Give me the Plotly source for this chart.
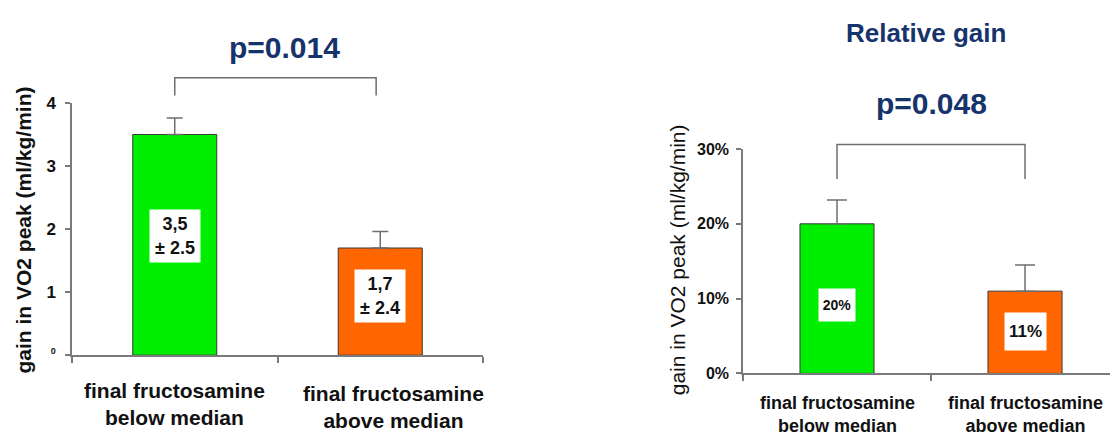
import plotly.graph_objects as go

W, H = 1110, 439

# ---------------- data ----------------
categories = ["final fructosamine<br>below median", "final fructosamine<br>above median"]
abs_gain = [3.5, 1.7]
abs_err = [0.26, 0.26]
abs_labels = ["3,5<br>± 2.5", "1,7<br>± 2.4"]
rel_gain = [0.20, 0.11]
rel_err = [0.032, 0.035]
rel_labels = ["20%", "11%"]
bar_colors = ["#00EE00", "#FF6600"]
abs_tickvals = [0, 1, 2, 3, 4]
abs_ticktext = ['<sup><span style="font-size:9px">0</span></sup>', "1", "2", "3", "4"]
rel_tickvals = [0, 0.1, 0.2, 0.3]
rel_ticktext = ["0%", "10%", "20%", "30%"]
p_left = "p=0.014"
p_right = "p=0.048"
right_heading = "Relative gain"
y_title = "gain in VO2 peak (ml/kg/min)"

FONT = "Liberation Sans, Arial, sans-serif"
NAVY = "#16336C"
AXIS = "#7a7a7a"


def py(p):
    return 1 - p / H


def px(p):
    return p / W


# subplot geometry (paper fractions, from pixel positions)
L_XD = [px(72), px(483)]
L_YD = [py(361), py(98)]
L_XR = [-0.5, 1.5]
L_YR = [0, 4]
R_XD = [px(743), 1.0]
R_YD = [py(380), py(146)]
R_XR = [-0.5, 1.452]
R_YR = [0, 0.30]


def to_paper(v, dom, rng):
    return dom[0] + (v - rng[0]) / (rng[1] - rng[0]) * (dom[1] - dom[0])


fig = go.Figure()

fig.add_trace(go.Bar(
    x=[0, 1], y=abs_gain, width=0.409, xaxis="x", yaxis="y",
    marker=dict(color=bar_colors, line=dict(color="#3a3a3a", width=1)),
    error_y=dict(type="data", array=abs_err, arrayminus=[0, 0], symmetric=False,
                 color="#6e6e6e", thickness=1.5, width=8),
    hoverinfo="skip", showlegend=False,
))
fig.add_trace(go.Bar(
    x=[0, 1], y=rel_gain, width=0.394, xaxis="x2", yaxis="y2",
    marker=dict(color=bar_colors, line=dict(color="#3a3a3a", width=1)),
    error_y=dict(type="data", array=rel_err, arrayminus=[0, 0], symmetric=False,
                 color="#6e6e6e", thickness=1.5, width=10),
    hoverinfo="skip", showlegend=False,
))

xcommon = dict(showgrid=False, zeroline=False, showline=True, linecolor=AXIS, linewidth=1.5,
               ticks="outside", tickcolor=AXIS, tickwidth=1.5, ticklen=6,
               showticklabels=False, fixedrange=True)
ycommon = dict(showgrid=False, zeroline=False, showline=True, linecolor=AXIS, linewidth=1.5,
               ticks="outside", tickcolor=AXIS, tickwidth=1.5, ticklen=5,
               fixedrange=True)

fig.update_layout(
    width=W, height=H,
    margin=dict(l=0, r=0, t=0, b=0),
    paper_bgcolor="white", plot_bgcolor="white",
    font=dict(family=FONT, color="#111111"),
    xaxis=dict(domain=L_XD, range=L_XR, tickvals=[-0.5, 0.5, 1.5], anchor="y", **xcommon),
    yaxis=dict(domain=L_YD, range=L_YR, tickvals=abs_tickvals, ticktext=abs_ticktext,
               tickfont=dict(size=17, weight="bold", family=FONT, color="#111"),
               ticklabelstandoff=6, anchor="x", **ycommon),
    xaxis2=dict(domain=R_XD, range=R_XR, tickvals=[-0.5, 0.5, 1.5], anchor="y2", **xcommon),
    yaxis2=dict(domain=R_YD, range=R_YR, tickvals=rel_tickvals, ticktext=rel_ticktext,
                tickfont=dict(size=16, weight="bold", family=FONT, color="#111"),
                ticklabelstandoff=4, anchor="x2", **ycommon),
)

ann = []
# category labels
for i, c in enumerate(categories):
    ann.append(dict(x=i, y=py(412 + 3 * i), xref="x", yref="paper", text=c, showarrow=False,
                    xshift=13 * i, font=dict(size=21, weight="bold", family=FONT, color="#111"),
                    yanchor="middle", xanchor="center"))
    ann.append(dict(x=i, y=py(423), xref="x2", yref="paper", text=c, showarrow=False,
                    font=dict(size=18, weight="bold", family=FONT, color="#111"),
                    yanchor="middle", xanchor="center"))

# value boxes inside bars
left_fr = [0.54, 0.55]
for i, (v, t) in enumerate(zip(abs_gain, abs_labels)):
    ann.append(dict(x=i, y=v * left_fr[i], xref="x", yref="y", text=t, showarrow=False,
                    bgcolor="white", width=48, height=50, borderpad=1,
                    yanchor="middle", xanchor="center",
                    font=dict(size=18, weight="bold", family=FONT, color="#111")))
right_fr = [0.46, 0.51]
right_box = [(34, 30, 14), (39, 35, 17)]
for i, (v, t) in enumerate(zip(rel_gain, rel_labels)):
    w, h, fs = right_box[i]
    ann.append(dict(x=i, y=v * right_fr[i], xref="x2", yref="y2", text=t, showarrow=False,
                    bgcolor="white", width=w, height=h, borderpad=1,
                    yanchor="middle", xanchor="center",
                    font=dict(size=fs, weight="bold", family=FONT, color="#111")))

# p values and heading
ann.append(dict(x=px(284), y=py(40), xref="paper", yref="paper", text=p_left, showarrow=False,
                yanchor="middle", xanchor="center",
                font=dict(size=30, weight="bold", family=FONT, color=NAVY)))
ann.append(dict(x=px(931), y=py(99), xref="paper", yref="paper", text=p_right, showarrow=False,
                yanchor="middle", xanchor="center",
                font=dict(size=30, weight="bold", family=FONT, color=NAVY)))
ann.append(dict(x=px(926), y=py(25), xref="paper", yref="paper", text=right_heading, showarrow=False,
                yanchor="middle", xanchor="center",
                font=dict(size=26, weight="bold", family=FONT, color=NAVY)))

# y titles
ann.append(dict(x=px(24), y=py(231), xref="paper", yref="paper", text=y_title, showarrow=False,
                yanchor="middle", xanchor="center",
                textangle=-90, font=dict(size=21, weight="bold", family=FONT, color="#111")))
ann.append(dict(x=px(677), y=py(262), xref="paper", yref="paper", text=y_title, showarrow=False,
                yanchor="middle", xanchor="center",
                textangle=-90, font=dict(size=21, family=FONT, color="#111")))

fig.update_layout(annotations=ann)

# significance brackets
shapes = []


def bracket(x0, x1, ytop, yleg, xd, xr, yd, yr):
    X0, X1 = to_paper(x0, xd, xr), to_paper(x1, xd, xr)
    YT, YL = to_paper(ytop, yd, yr), to_paper(yleg, yd, yr)
    return dict(type="path", xref="paper", yref="paper",
                path=f"M{X0},{YL} L{X0},{YT} L{X1},{YT} L{X1},{YL}",
                line=dict(color="#6e6e6e", width=1.5))


shapes.append(bracket(0, 0.98, 4.40, 4.12, L_XD, L_XR, L_YD, L_YR))
shapes.append(bracket(0, 1, 0.306, 0.26, R_XD, R_XR, R_YD, R_YR))
fig.update_layout(shapes=shapes)

fig.write_html(
    "out.html",
    config={"displayModeBar": False},
    post_script=(
        "document.documentElement.style.margin='0';"
        "document.body.style.margin='0';"
        "document.documentElement.style.overflow='hidden';"
        "document.body.style.overflow='hidden';"
    ),
)
